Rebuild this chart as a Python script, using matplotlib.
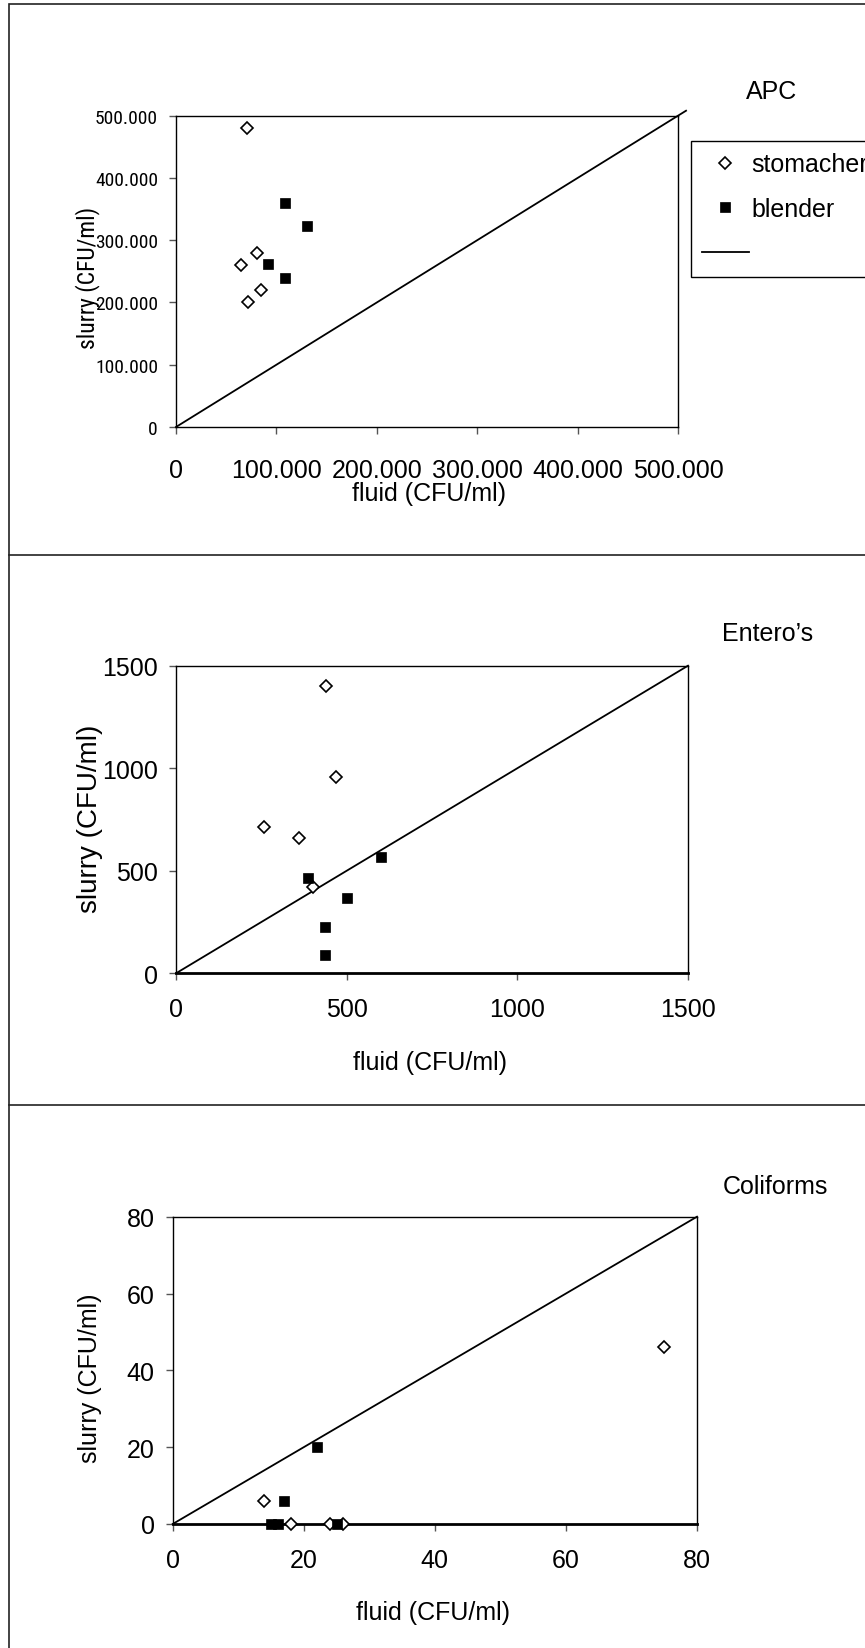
import matplotlib
matplotlib.use("Agg")
import matplotlib.pyplot as plt
from matplotlib import font_manager
from matplotlib.lines import Line2D
from matplotlib.patches import Rectangle
from matplotlib.ticker import FuncFormatter

plt.rcParams['font.family'] = ['Liberation Sans', 'DejaVu Sans']

# ---------------- data ----------------
apc_stom_x = [70500, 81000, 65000, 85000, 72000]
apc_stom_y = [481000, 280000, 261000, 220000, 201000]
apc_blend_x = [109000, 130000, 92000, 109000]
apc_blend_y = [360000, 323000, 262000, 240000]
apc_line = [0, 508000]
apc_ticks = [0, 100000, 200000, 300000, 400000, 500000]

ent_stom_x = [440, 470, 258, 360, 400]
ent_stom_y = [1400, 955, 715, 658, 420]
ent_blend_x = [387, 600, 500, 437, 437]
ent_blend_y = [463, 566, 367, 224, 90]
ent_line = [0, 1500]
ent_ticks = [0, 500, 1000, 1500]

col_stom_x = [14, 18, 24, 26, 75]
col_stom_y = [6, 0, 0, 0, 46]
col_blend_x = [22, 17, 15, 16, 25]
col_blend_y = [20, 6, 0, 0, 0]
col_line = [0, 80]
col_ticks = [0, 20, 40, 60, 80]

titles = ["APC", "Entero\u2019s", "Coliforms"]
series_names = ["stomacher", "blender", ""]
xlabel = "fluid (CFU/ml)"
ylabel = "slurry (CFU/ml)"

# ---------------- fonts ----------------
available = {f.name for f in font_manager.fontManager.ttflist}
NARROW = None
for cand in ['Liberation Sans Narrow', 'Arial Narrow', 'Roboto Condensed', 'Open Sans Condensed',
             'PT Sans Narrow', 'Archivo Narrow']:
    if cand in available:
        NARROW = cand
        break

# ---------------- layout ----------------
W, H = 865, 1649
fig = plt.figure(figsize=(W / 100, H / 100), dpi=100)


def fx(x):
    return x / W


def fy(y):
    return 1 - y / H


def add_axes(left, right, top, bottom):
    return fig.add_axes([fx(left), fy(bottom), (right - left) / W, (bottom - top) / H])


FS = 18
stom_kw = dict(marker='D', markersize=6.0, mfc='white', mec='black', mew=1.2, linestyle='none')
blend_kw = dict(marker='s', markersize=7.5, mfc='black', mec='black', mew=0.5, linestyle='none')


def thousands(v, pos):
    return "{:,.0f}".format(v).replace(",", ".")


panels = [
    dict(box=(176, 678, 116.7, 428), sx=apc_stom_x, sy=apc_stom_y, bx=apc_blend_x, by=apc_blend_y,
         line=apc_line, ticks=apc_ticks, fmt=thousands, bottom_lw=1.0, xpad=17,
         title_xy=(772, 92), ylab_xy=(88, 278), xlab_xy=(429, 494), ylab_fs=FS, condensed=True),
    dict(box=(176, 688, 666.7, 974.3), sx=ent_stom_x, sy=ent_stom_y, bx=ent_blend_x, by=ent_blend_y,
         line=ent_line, ticks=ent_ticks, fmt=None, bottom_lw=2.0, xpad=12,
         title_xy=(768, 634), ylab_xy=(90, 819), xlab_xy=(430, 1063), ylab_fs=20, condensed=False),
    dict(box=(172.7, 697, 1217.7, 1525), sx=col_stom_x, sy=col_stom_y, bx=col_blend_x, by=col_blend_y,
         line=col_line, ticks=col_ticks, fmt=None, bottom_lw=2.0, xpad=12,
         title_xy=(775, 1187), ylab_xy=(90, 1378), xlab_xy=(433, 1613), ylab_fs=FS, condensed=False),
]

handles = []
for i, p in enumerate(panels):
    ax = add_axes(*p['box'])
    ln, = ax.plot(p['line'], p['line'], color='black', lw=1.3, clip_on=False, zorder=2)
    hs, = ax.plot(p['sx'], p['sy'], clip_on=False, zorder=3, **stom_kw)
    hb, = ax.plot(p['bx'], p['by'], clip_on=False, zorder=3, **blend_kw)
    if i == 0:
        handles = [hs, hb, ln]
    t = p['ticks']
    ax.set_xlim(t[0], t[-1])
    ax.set_ylim(t[0], t[-1])
    ax.set_xticks(t)
    ax.set_yticks(t)
    if p['fmt'] is not None:
        ax.xaxis.set_major_formatter(FuncFormatter(p['fmt']))
        ax.yaxis.set_major_formatter(FuncFormatter(p['fmt']))
    for s in ax.spines.values():
        s.set_color('black')
        s.set_linewidth(1.0)
    ax.spines['bottom'].set_linewidth(p['bottom_lw'])
    ax.tick_params(axis='both', direction='out', length=5, width=1, color='#555555',
                   labelsize=FS, labelcolor='black')
    ax.tick_params(axis='x', pad=p['xpad'])
    ax.tick_params(axis='y', pad=8)
    ylab_kw = dict(fontsize=p['ylab_fs'])
    if p['condensed']:
        if NARROW is not None:
            for lab in ax.get_yticklabels():
                lab.set_fontfamily([NARROW, 'Liberation Sans'])
                lab.set_fontsize(14)
            ylab_kw = dict(fontsize=17, family=[NARROW, 'Liberation Sans'])
        else:
            for lab in ax.get_yticklabels():
                lab.set_fontsize(12)
            ylab_kw = dict(fontsize=15)
    fig.text(fx(p['title_xy'][0]), fy(p['title_xy'][1]), titles[i], fontsize=FS,
             ha='center', va='center')
    fig.text(fx(p['ylab_xy'][0]), fy(p['ylab_xy'][1]), ylabel,
             ha='center', va='center', rotation=90, **ylab_kw)
    fig.text(fx(p['xlab_xy'][0]), fy(p['xlab_xy'][1]), xlabel, fontsize=FS,
             ha='center', va='center')

leg_labels = [s if s else " " for s in series_names]
leg = fig.legend(handles, leg_labels, loc='upper left', bbox_to_anchor=(fx(691), fy(142)),
                 frameon=True, fancybox=False, edgecolor='black', fontsize=FS,
                 borderpad=0.45, labelspacing=0.82, handlelength=1.85, handletextpad=0.1,
                 borderaxespad=0, framealpha=1)
leg.get_frame().set_linewidth(1.0)

# outer border and panel separators
fig.add_artist(Rectangle((fx(9), fy(1700)), 2.0, (1700 - 5.3) / H, transform=fig.transFigure,
                         fill=False, edgecolor='#222222', lw=1.2))
for ysep in [555.7, 1106]:
    fig.add_artist(Line2D([fx(9), 1.2], [fy(ysep), fy(ysep)], transform=fig.transFigure,
                          color='#222222', lw=1.2))

fig.savefig("out.png", dpi=100)
